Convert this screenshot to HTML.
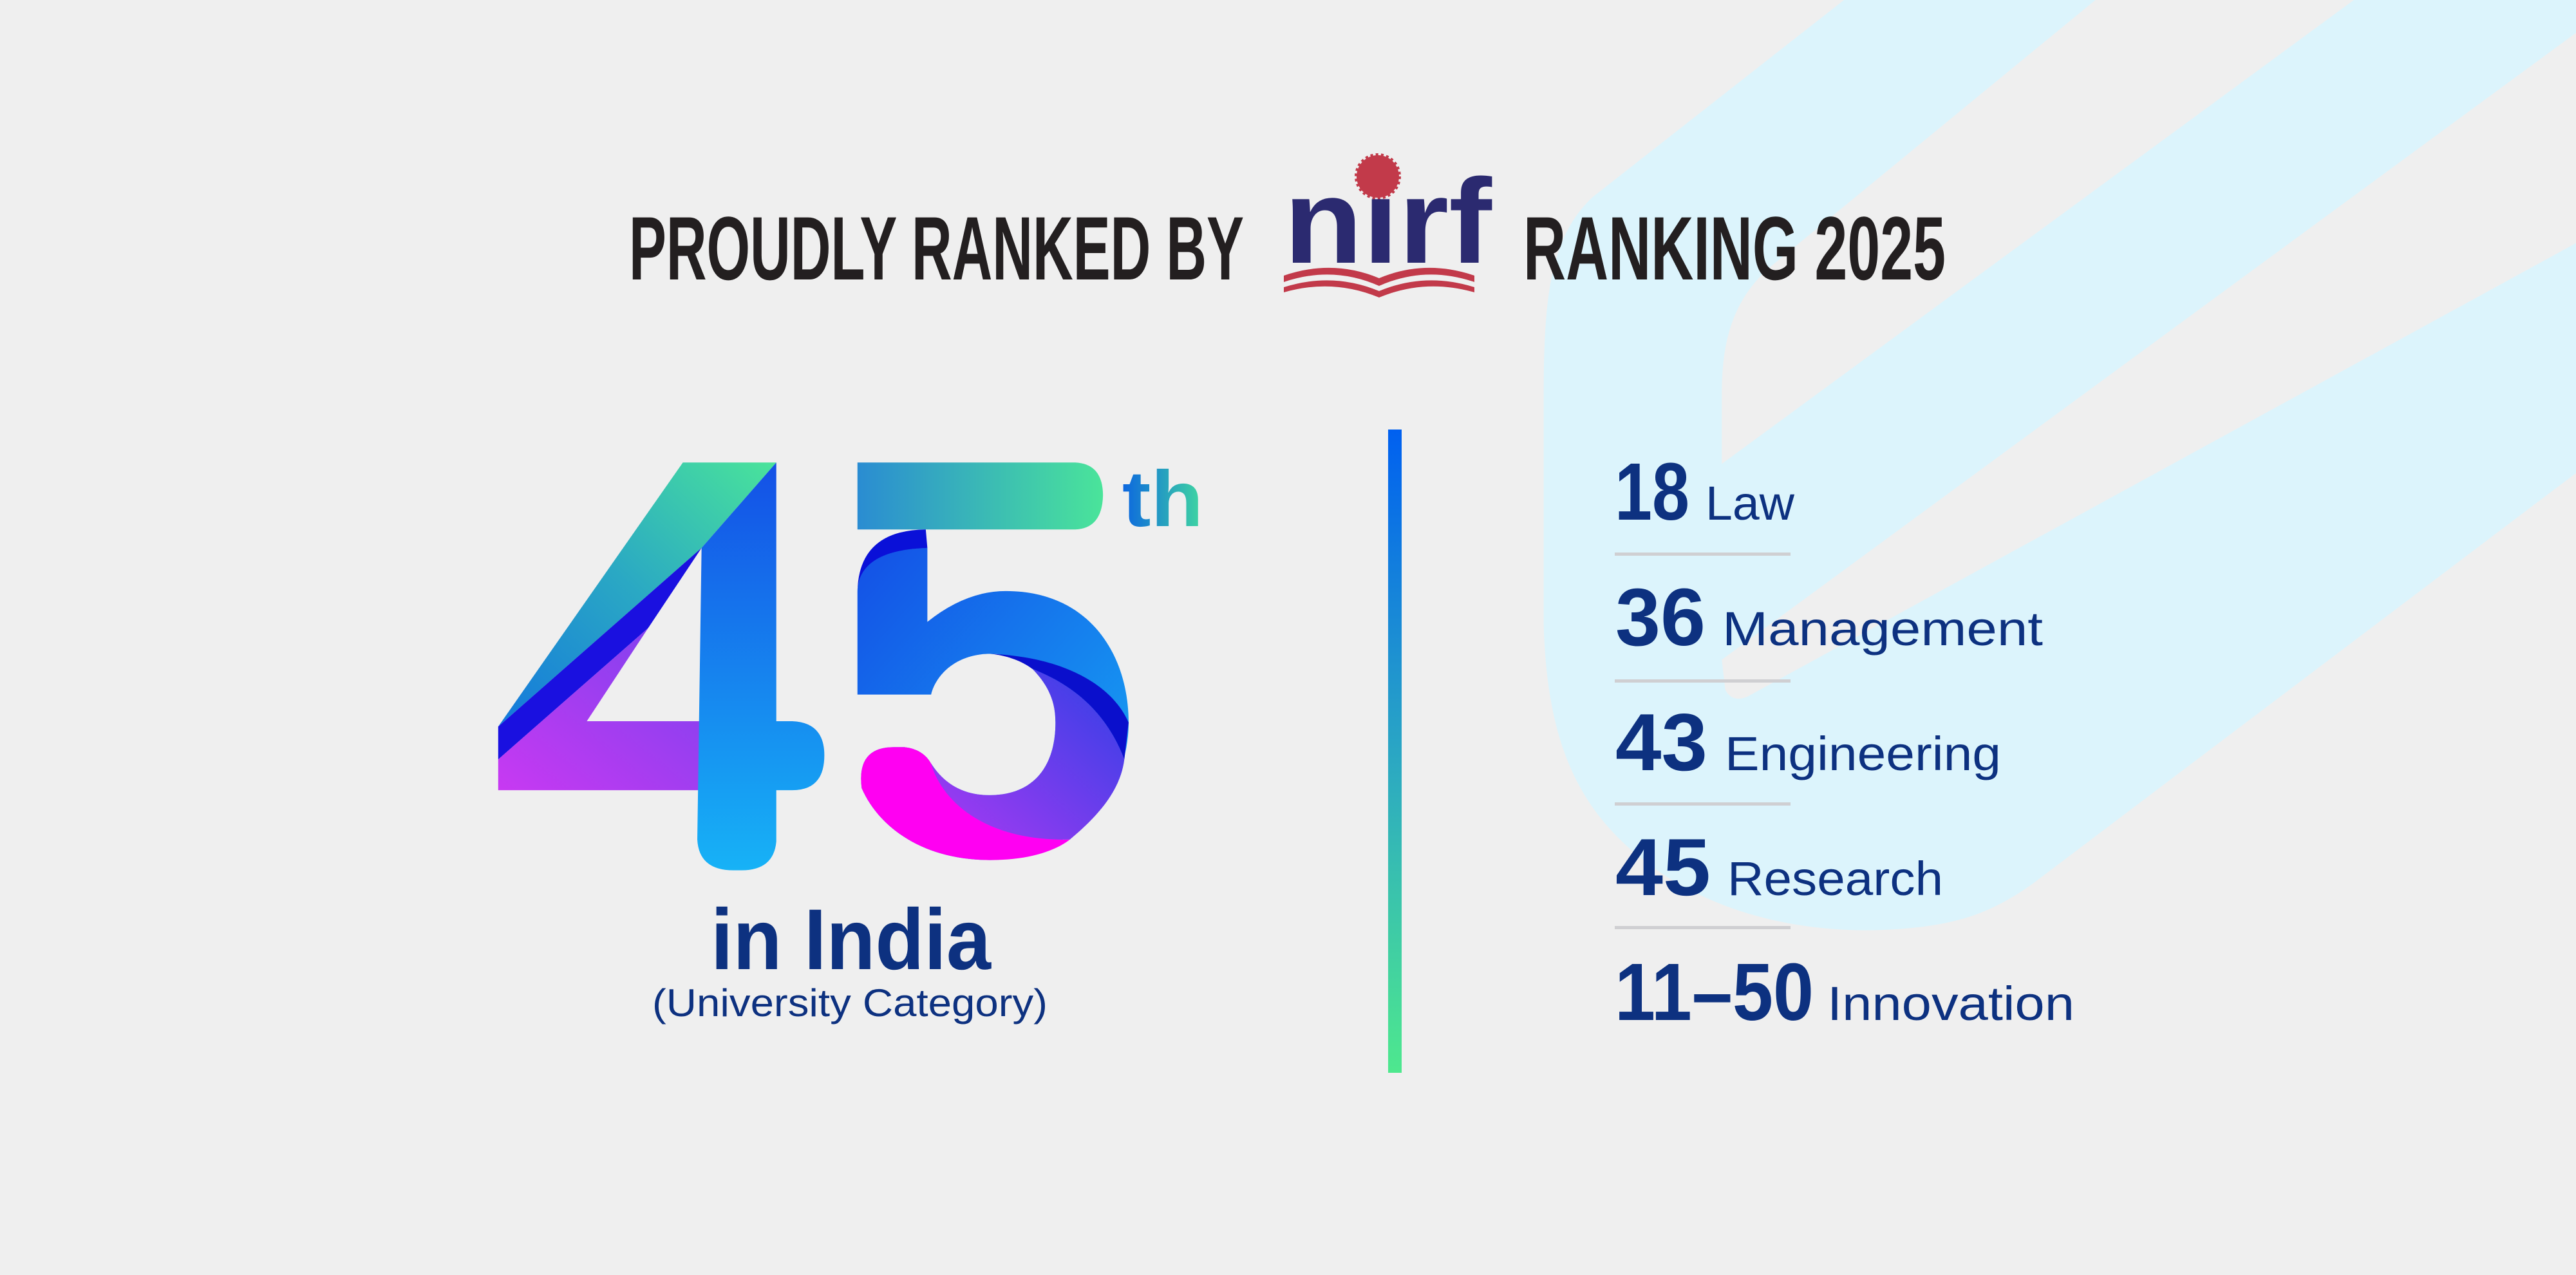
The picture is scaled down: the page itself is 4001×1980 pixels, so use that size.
<!DOCTYPE html>
<html><head><meta charset="utf-8"><style>
html,body{margin:0;padding:0;background:#efefef;}
svg{display:block;}
</style></head><body>
<svg width="4001" height="1980" viewBox="0 0 4001 1980" xmlns="http://www.w3.org/2000/svg">
<defs>
<linearGradient id="gDiag" x1="1" y1="0" x2="0" y2="1"><stop offset="0" stop-color="#4ae49a"/><stop offset="0.5" stop-color="#2aa8c4"/><stop offset="1" stop-color="#1478dc"/></linearGradient>
<linearGradient id="gPurp" x1="0" y1="1" x2="1" y2="0"><stop offset="0" stop-color="#c839f2"/><stop offset="1" stop-color="#7a42ee"/></linearGradient>
<linearGradient id="gStem" x1="0" y1="0" x2="0" y2="1"><stop offset="0" stop-color="#1450e6"/><stop offset="1" stop-color="#17b2f6"/></linearGradient>
<linearGradient id="gTop" x1="0" y1="0" x2="1" y2="0"><stop offset="0" stop-color="#2a8cd2"/><stop offset="1" stop-color="#4ae49a"/></linearGradient>
<linearGradient id="gBowl" x1="0" y1="0" x2="1" y2="1"><stop offset="0" stop-color="#1450e6"/><stop offset="1" stop-color="#16a8f4"/></linearGradient>
<linearGradient id="gLow" x1="0" y1="1" x2="1" y2="0"><stop offset="0" stop-color="#a83af2"/><stop offset="1" stop-color="#3040e6"/></linearGradient>
<linearGradient id="gDiv" x1="0" y1="0" x2="0" y2="1"><stop offset="0" stop-color="#0060f0"/><stop offset="0.5" stop-color="#2aa6c4"/><stop offset="1" stop-color="#4ee88e"/></linearGradient>
<linearGradient id="gTh" x1="0" y1="0" x2="1" y2="0"><stop offset="0" stop-color="#0c66e0"/><stop offset="1" stop-color="#40d8a0"/></linearGradient>
</defs>
<rect width="4001" height="1980" fill="#efefef"/>

<svg x="2300" y="0" width="1701" height="1600" viewBox="0 0 1568 1568" preserveAspectRatio="none">
  <path d="M520,0 L160,300 C100,360 90,450 90,600 L90,950 C95,1150 150,1250 260,1330 C360,1400 480,1420 580,1415 C680,1410 730,1390 790,1345 L1568,720 L1568,0 Z" fill="#dcf4fc"/>
  <path d="M880,0 L410,410 C360,460 345,520 345,600 L345,706 L1250,0 Z" fill="#efefef"/>
  <path d="M1568,50 L345,1004 L350,1050 Q360,1070 382,1060 L1568,370 Z" fill="#efefef"/>
</svg>

<text x="977" y="434" font-family="Liberation Sans, sans-serif" font-weight="bold" font-size="140" fill="#231f20" textLength="955" lengthAdjust="spacingAndGlyphs">PROUDLY RANKED BY</text>
<text x="2366" y="434" font-family="Liberation Sans, sans-serif" font-weight="bold" font-size="140" fill="#231f20" textLength="656" lengthAdjust="spacingAndGlyphs">RANKING 2025</text>
<circle cx="2140" cy="274" r="33" fill="#c23a4a" stroke="#c23a4a" stroke-width="6" stroke-dasharray="4 4"/>
<text x="1994" y="408" font-family="Liberation Sans, sans-serif" font-weight="bold" font-size="187" fill="#2b2a70" textLength="323" lengthAdjust="spacingAndGlyphs">nırf</text>
<path d="M1994,428 Q2070,402 2142,432 Q2214,402 2290,428 L2290,438 Q2214,412 2142,444 Q2070,412 1994,438 Z" fill="#c23a4a"/>
<path d="M1994,446 Q2070,422 2142,452 Q2214,422 2290,446 L2290,454 Q2214,432 2142,462 Q2070,432 1994,454 Z" fill="#c23a4a"/>

<svg x="700" y="650" width="1300" height="1000" viewBox="0 0 1568 1568" preserveAspectRatio="none">
  <polygon points="435,107 610,107 470,315 89,750" fill="url(#gDiag)"/>
  <polygon points="470,315 89,750 89,830 370,510" fill="#1a10e0"/>
  <polygon points="89,830 370,510 255,737 470,737 470,905 89,905" fill="url(#gPurp)"/>
  <path d="M470,315 L610,107 L610,737 L640,737 Q700,740 700,820 Q700,905 640,905 L610,905 L610,1030 Q605,1100 545,1100 L530,1100 Q465,1100 462,1025 Z" fill="url(#gStem)"/>
  <path d="M762,107 L1170,107 Q1222,110 1222,188 Q1220,268 1170,270 L762,270 Z" fill="url(#gTop)"/>
  <path d="M893,495 Q965,420 1040,420 C1200,420 1270,580 1270,740 C1270,930 1150,1075 1010,1075 C880,1075 800,990 770,900 Q760,800 830,800 L850,800 Q885,805 900,840 C930,900 970,917 1010,917 C1090,917 1133,850 1133,740 C1133,630 1080,573 1010,573 C950,573 910,620 900,672 L762,672 L762,420 Q765,318 893,315 Z" fill="url(#gBowl)"/>
  <path d="M762,420 Q765,272 890,270 L893,315 Q765,320 762,420 Z" fill="#0a10d8"/>
  <path d="M1010,573 C1150,580 1240,650 1270,740 L1262,830 C1230,720 1170,650 1090,610 C1070,590 1040,576 1010,573 Z" fill="#0a0fcc"/>
  <path d="M1262,830 C1230,720 1170,650 1090,610 C1120,650 1133,690 1133,740 C1133,850 1090,917 1010,917 C970,917 930,900 900,840 C920,930 1000,1030 1160,1025 C1220,960 1255,900 1262,830 Z" fill="url(#gLow)"/>
  <path d="M900,840 Q885,805 850,800 L830,800 Q760,800 770,900 C800,990 880,1075 1010,1075 C1080,1075 1130,1055 1160,1025 C1000,1030 920,930 900,840 Z" fill="#ff00f2"/>
</svg>
<text x="1743" y="817" font-family="Liberation Sans, sans-serif" font-weight="bold" font-size="123" fill="url(#gTh)" textLength="126" lengthAdjust="spacingAndGlyphs">th</text>

<text x="1104" y="1505" font-family="Liberation Sans, sans-serif" font-weight="bold" font-size="134" fill="#0d3180" textLength="435" lengthAdjust="spacingAndGlyphs">in India</text>
<text x="1013" y="1578" font-family="Liberation Sans, sans-serif" font-size="60" fill="#0d3180" textLength="614" lengthAdjust="spacingAndGlyphs">(University Category)</text>

<rect x="2156" y="667" width="21" height="999" fill="url(#gDiv)"/>

<g font-family="Liberation Sans, sans-serif" fill="#0d3180">
<text x="2508" y="807" font-weight="bold" font-size="126" textLength="116" lengthAdjust="spacingAndGlyphs">18</text>
<text x="2649" y="807" font-size="74" textLength="138" lengthAdjust="spacingAndGlyphs">Law</text>
<text x="2509" y="1002" font-weight="bold" font-size="126" textLength="140" lengthAdjust="spacingAndGlyphs">36</text>
<text x="2675" y="1002" font-size="74" textLength="498" lengthAdjust="spacingAndGlyphs">Management</text>
<text x="2509" y="1196" font-weight="bold" font-size="126" textLength="143" lengthAdjust="spacingAndGlyphs">43</text>
<text x="2679" y="1196" font-size="74" textLength="429" lengthAdjust="spacingAndGlyphs">Engineering</text>
<text x="2509" y="1390" font-weight="bold" font-size="126" textLength="148" lengthAdjust="spacingAndGlyphs">45</text>
<text x="2683" y="1390" font-size="74" textLength="335" lengthAdjust="spacingAndGlyphs">Research</text>
<text x="2508" y="1584" font-weight="bold" font-size="126" textLength="309" lengthAdjust="spacingAndGlyphs">11–50</text>
<text x="2838" y="1584" font-size="74" textLength="384" lengthAdjust="spacingAndGlyphs">Innovation</text>
</g>
<g fill="#cfcfd2">
<rect x="2508" y="858" width="273" height="5"/>
<rect x="2508" y="1055" width="273" height="5"/>
<rect x="2508" y="1246" width="273" height="5"/>
<rect x="2508" y="1438" width="273" height="5"/>
</g>
</svg>
</body></html>
